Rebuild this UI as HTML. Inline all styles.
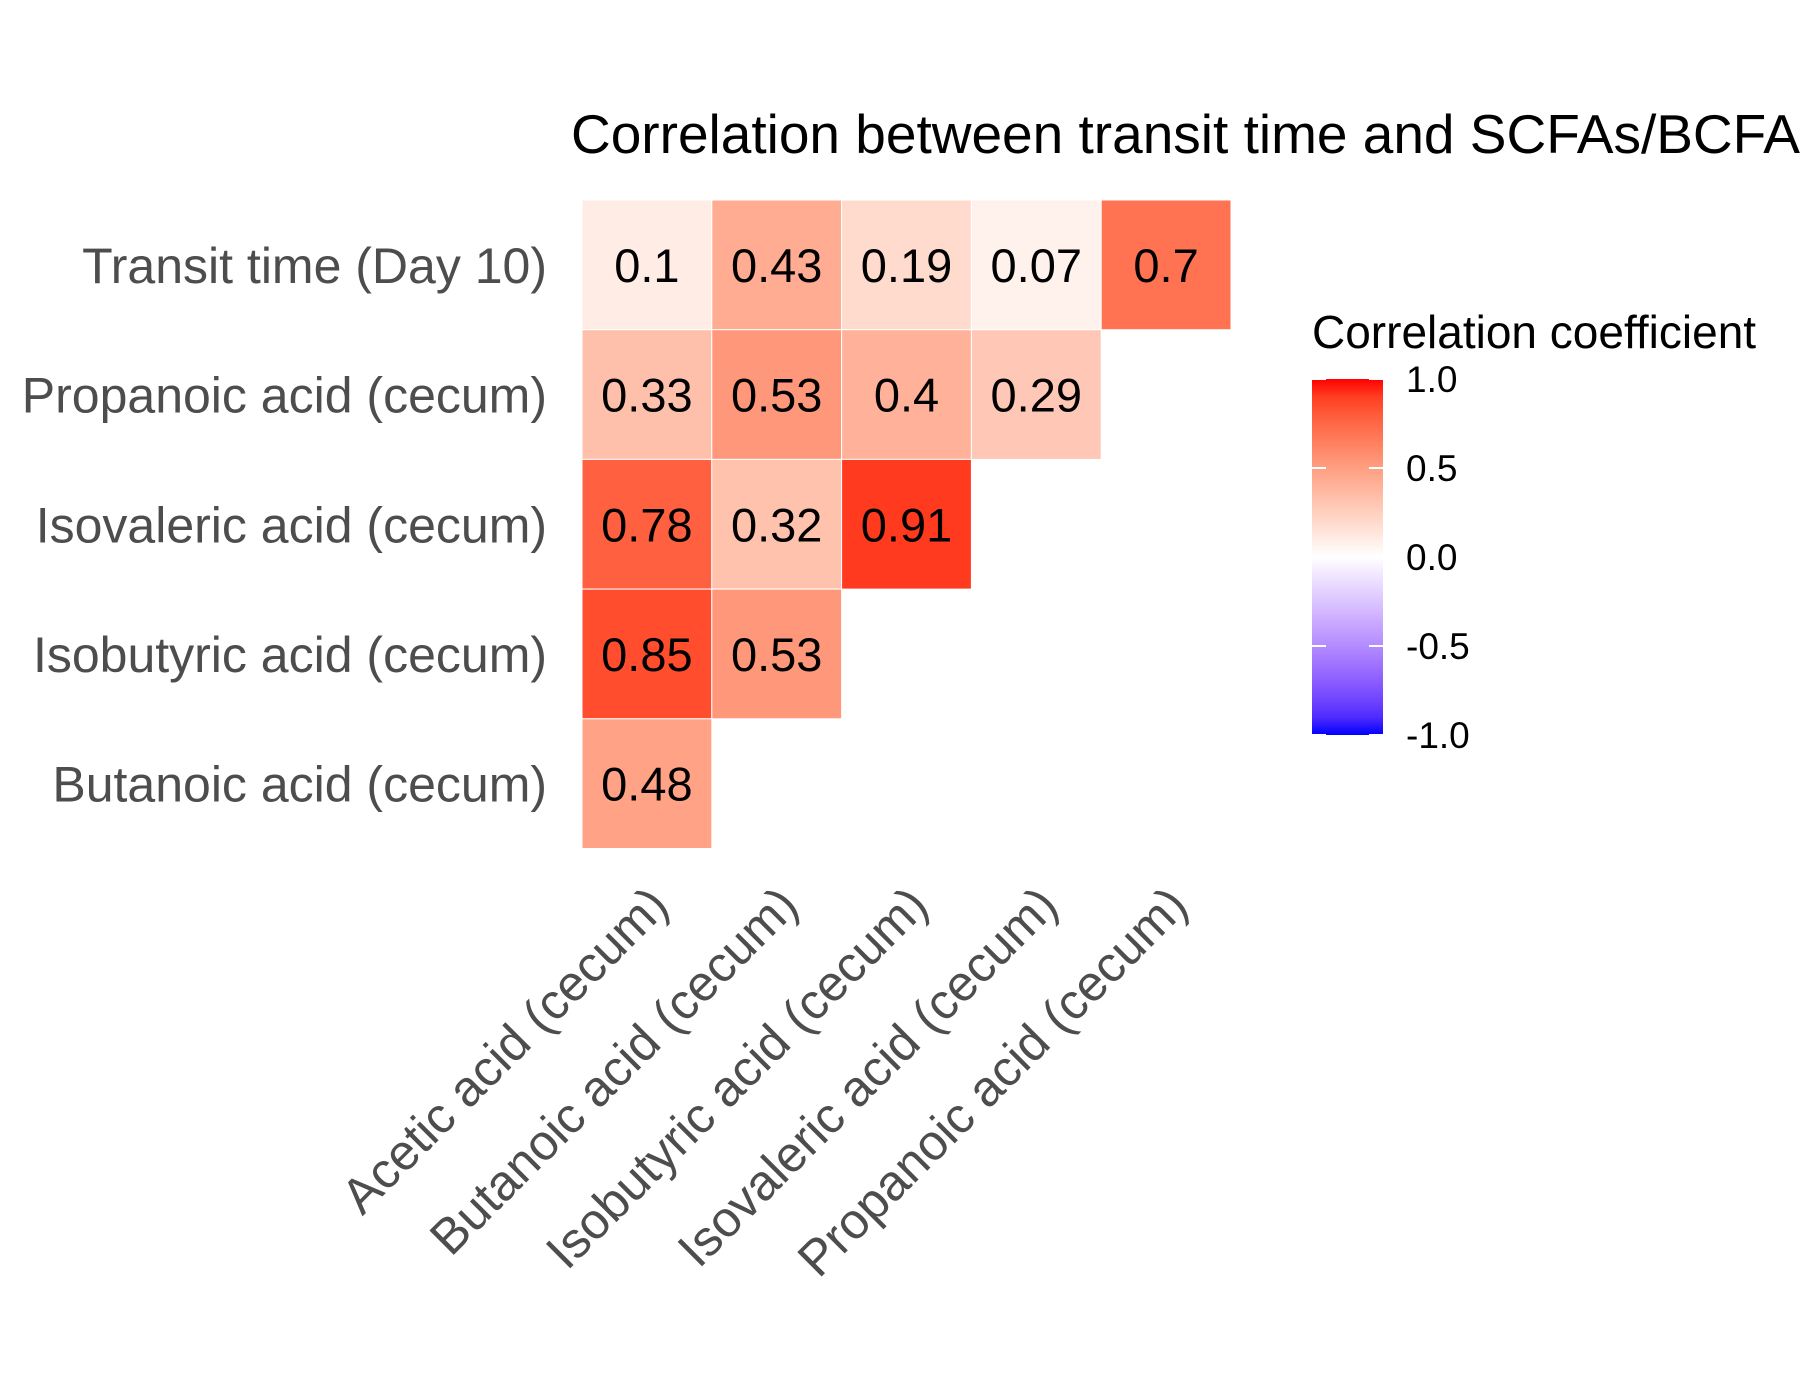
<!DOCTYPE html>
<html><head><meta charset="utf-8"><style>
html,body{margin:0;padding:0;background:#fff;}
svg{display:block;font-family:"Liberation Sans",Arial,sans-serif;}
</style></head><body>
<svg id="chart" width="1800" height="1400" viewBox="0 0 1800 1400">
<text x="571" y="153" font-size="55" fill="#000">Correlation between transit time and SCFAs/BCFAs</text>
<g id="cells"></g>
<g id="ylabels"></g>
<g id="xlabels"></g>
<g id="legend"></g>
</svg>
<script>
const xCategories=["Acetic acid (cecum)","Butanoic acid (cecum)","Isobutyric acid (cecum)","Isovaleric acid (cecum)","Propanoic acid (cecum)"];
const yCategories=["Transit time (Day 10)","Propanoic acid (cecum)","Isovaleric acid (cecum)","Isobutyric acid (cecum)","Butanoic acid (cecum)"];
const rowTransit=[0.1,0.43,0.19,0.07,0.7];
const rowPropanoic=[0.33,0.53,0.4,0.29];
const rowIsovaleric=[0.78,0.32,0.91];
const rowIsobutyric=[0.85,0.53];
const rowButanoic=[0.48];
const legendTicks=[1.0,0.5,0.0,-0.5,-1.0];
const rows=[rowTransit,rowPropanoic,rowIsovaleric,rowIsobutyric,rowButanoic];

const NS="http://www.w3.org/2000/svg";
const x0=582,cw=129.8,y0=200,ch=129.7;
function xPos(i){return x0+i*cw;}
function yPos(j){return y0+j*ch;}
function srgb2lin(c){c/=255;return c<=0.04045?c/12.92:Math.pow((c+0.055)/1.055,2.4);}
function lin2srgb(c){c=c<=0.0031308?12.92*c:1.055*Math.pow(c,1/2.4)-0.055;return Math.max(0,Math.min(255,Math.round(c*255)));}
function toLab(r,g,b){r=srgb2lin(r);g=srgb2lin(g);b=srgb2lin(b);
 let X=(0.4124*r+0.3576*g+0.1805*b)/0.95047,Y=0.2126*r+0.7152*g+0.0722*b,Z=(0.0193*r+0.1192*g+0.9505*b)/1.08883;
 const f=t=>t>0.008856?Math.cbrt(t):7.787*t+16/116;
 return [116*f(Y)-16,500*(f(X)-f(Y)),200*(f(Y)-f(Z))];}
function fromLab(L,a,b){const fy=(L+16)/116,fx=fy+a/500,fz=fy-b/200;
 const fi=t=>t*t*t>0.008856?t*t*t:(t-16/116)/7.787;
 const X=fi(fx)*0.95047,Y=fi(fy),Z=fi(fz)*1.08883;
 const r=3.2406*X-1.5372*Y-0.4986*Z,g=-0.9689*X+1.8758*Y+0.0415*Z,bb=0.0557*X-0.2040*Y+1.0570*Z;
 return "rgb("+lin2srgb(r)+","+lin2srgb(g)+","+lin2srgb(bb)+")";}
const W=toLab(255,255,255),R=toLab(255,0,0),B=toLab(0,0,255);
function color(v){const t=Math.abs(v),e=v>=0?R:B;return fromLab(W[0]+(e[0]-W[0])*t,W[1]+(e[1]-W[1])*t,W[2]+(e[2]-W[2])*t);}

const cells=document.getElementById('cells');
rows.forEach((row,j)=>{row.forEach((v,i)=>{
 const r=document.createElementNS(NS,'rect');
 r.setAttribute('x',xPos(i));r.setAttribute('y',yPos(j));r.setAttribute('width',cw);r.setAttribute('height',ch);
 r.setAttribute('fill',color(v));r.setAttribute('stroke','#fff');r.setAttribute('stroke-width','1');
 
 
 cells.appendChild(r);
 const t=document.createElementNS(NS,'text');
 t.setAttribute('x',xPos(i)+cw/2);t.setAttribute('y',yPos(j)+ch/2+17);t.setAttribute('text-anchor','middle');
 t.setAttribute('font-size','47');t.setAttribute('fill','#000');t.textContent=String(v);
 
 
 cells.appendChild(t);
});});
const yl=document.getElementById('ylabels');
yCategories.forEach((s,j)=>{const t=document.createElementNS(NS,'text');
 t.setAttribute('x',547);t.setAttribute('y',yPos(j)+ch/2+18);t.setAttribute('text-anchor','end');
 t.setAttribute('font-size','50');t.setAttribute('fill','#4d4d4d');t.textContent=s;
 
 
 yl.appendChild(t);});
const xl=document.getElementById('xlabels');
xCategories.forEach((s,i)=>{const t=document.createElementNS(NS,'text');
 const ax=xPos(i)+cw/2+24,ay=908;
 t.setAttribute('transform','translate('+ax+','+ay+') rotate(-45)');
 t.setAttribute('text-anchor','end');t.setAttribute('font-size','50');t.setAttribute('fill','#4d4d4d');t.textContent=s;
 
 
 xl.appendChild(t);});
const lg=document.getElementById('legend');
const lx=1312,lw=71,ly=379,lh=356;
const defs=document.createElementNS(NS,'defs');
const grad=document.createElementNS(NS,'linearGradient');
grad.setAttribute('id','cg');grad.setAttribute('x1','0');grad.setAttribute('y1','0');grad.setAttribute('x2','0');grad.setAttribute('y2','1');
for(let k=0;k<=20;k++){const v=1-k/10;const st=document.createElementNS(NS,'stop');
 st.setAttribute('offset',(k/20));st.setAttribute('stop-color',color(v));grad.appendChild(st);}
defs.appendChild(grad);lg.appendChild(defs);
const lt=document.createElementNS(NS,'text');
lt.setAttribute('x',lx);lt.setAttribute('y',348);lt.setAttribute('font-size','46');lt.setAttribute('fill','#000');lt.textContent='Correlation coefficient';


lg.appendChild(lt);
const bar=document.createElementNS(NS,'rect');
bar.setAttribute('x',lx);bar.setAttribute('y',ly);bar.setAttribute('width',lw);bar.setAttribute('height',lh);bar.setAttribute('fill','url(#cg)');


lg.appendChild(bar);
function lyPos(v){return ly+(1-v)/2*lh;}
legendTicks.forEach(v=>{const yy=lyPos(v);
 [[lx,lx+14],[lx+lw-14,lx+lw]].forEach(p=>{const l=document.createElementNS(NS,'line');
  l.setAttribute('x1',p[0]);l.setAttribute('x2',p[1]);l.setAttribute('y1',yy);l.setAttribute('y2',yy);l.setAttribute('stroke','#fff');l.setAttribute('stroke-width','2');
  
  
  lg.appendChild(l);});
 const t=document.createElementNS(NS,'text');
 t.setAttribute('x',1406);t.setAttribute('y',yy+13);t.setAttribute('font-size','37');t.setAttribute('fill','#000');t.textContent=v.toFixed(1);
 
 
 lg.appendChild(t);});
</script>
</body></html>
